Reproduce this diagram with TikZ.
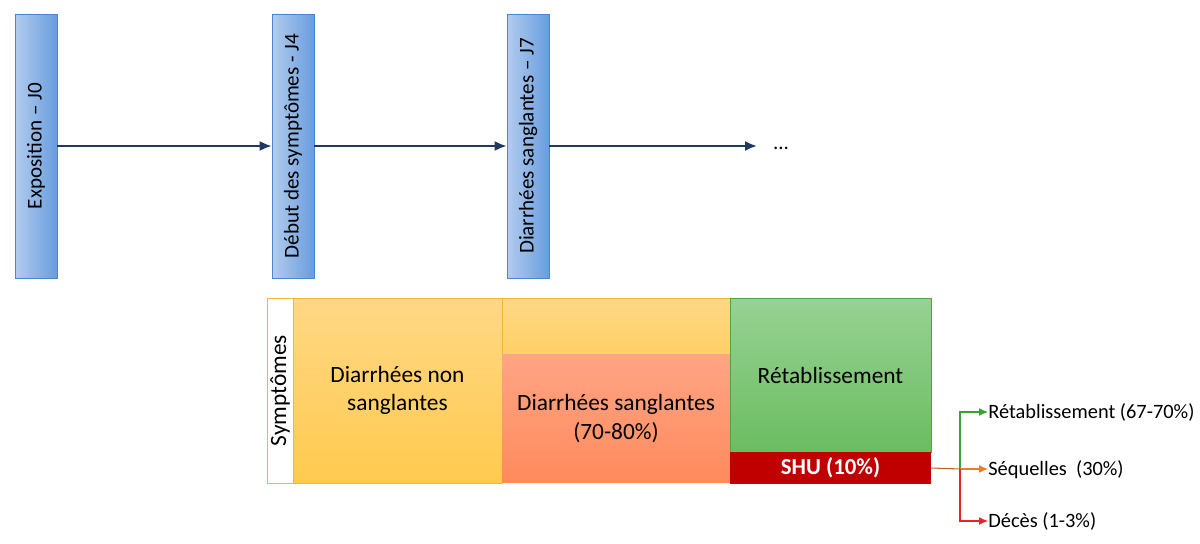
\documentclass[tikz,border=0pt]{standalone}
\usepackage{fontspec}
\setmainfont{Carlito}
\usepackage{tikz}
\usetikzlibrary{calc,arrows.meta}

\definecolor{phaseleft}{HTML}{B2CCEE}
\definecolor{phaseright}{HTML}{689DDF}
\definecolor{phaseline}{HTML}{4A86D0}
\definecolor{timeline}{HTML}{1F3864}
\definecolor{yellowtop}{HTML}{FFD886}
\definecolor{yellowbot}{HTML}{FFCA4E}
\definecolor{yellowline}{HTML}{F5B731}
\definecolor{salmontop}{HTML}{FFA585}
\definecolor{salmonbot}{HTML}{FF8A5C}
\definecolor{greentop}{HTML}{97D293}
\definecolor{greenbot}{HTML}{6BBD61}
\definecolor{greenline}{HTML}{4EA24A}
\definecolor{shured}{HTML}{C00000}
\definecolor{arrowgreen}{HTML}{3DA035}
\definecolor{arroworange}{HTML}{F07A1E}
\definecolor{arrowred}{HTML}{E8242A}

\tikzset{
  phase/.style={rotate=90, minimum width=5.28cm, minimum height=0.84cm,
    inner sep=0pt, draw=phaseline, left color=phaseleft, right color=phaseright,
    font=\fontsize{12}{14}\selectfont},
  block/.style={inner sep=0pt, align=center, font=\fontsize{13.3}{16}\selectfont},
  outcome/.style={anchor=west, inner sep=0pt, font=\fontsize{11.6}{14}\selectfont},
}

\begin{document}
\begin{tikzpicture}[x=0.02cm, y=-0.02cm]
        \useasboundingbox (0,0) rectangle (1200,544);

        % Timeline phases at the top
        \node[phase] (expo) at (36,146) {Exposition -- J0};
        \node[phase] (debut) at (293,146) {Début des symptômes - J4};
        \node[phase] (sang) at (528,146) {Diarrhées sanglantes -- J7};
        \node[font=\fontsize{12}{14}\selectfont, inner sep=0pt] (dots) at (781,148) {...};
        \coordinate (tend) at (757,146);

        % Arrows between the phases
        \draw[timeline, line width=1.1pt, -{Latex[length=2.4mm, width=2mm]}] (expo) -- (debut);
        \draw[timeline, line width=1.1pt, -{Latex[length=2.4mm, width=2mm]}] (debut) -- (sang);
        \draw[timeline, line width=1.1pt, -{Latex[length=2.4mm, width=2mm]}] (sang) -- (tend);

        % Symptom blocks at the bottom
        \node[block, rotate=90, draw=yellowline, fill=white, minimum width=3.7cm, minimum height=0.52cm] (symp) at (280,390.5) {Symptômes};
        \node[block, draw=yellowline, top color=yellowtop, bottom color=yellowbot, minimum width=4.18cm, minimum height=3.7cm] (nonsang) at (397.5,390.5) {Diarrhées non\\sanglantes};
        \node[block, draw=yellowline, top color=yellowtop, bottom color=yellowbot!60!yellowtop, minimum width=4.56cm, minimum height=1.12cm] (upper) at (616,326) {};
        \node[block, top color=salmontop, bottom color=salmonbot, minimum width=4.56cm, minimum height=2.58cm] (sang2) at (616,418.5) {Diarrhées sanglantes\\(70-80\%)};
        \node[block, draw=greenline, top color=greentop, bottom color=greenbot, minimum width=4.02cm, minimum height=3.08cm] (retab) at (830.5,375) {Rétablissement};
        \node[block, fill=shured, text=white, font=\fontsize{13}{16}\selectfont\bfseries, minimum width=4.02cm, minimum height=0.64cm] (shu) at (830.5,468) {SHU (10\%)};

        % Outcomes of SHU
        \node[outcome] (out1) at (988,412) {Rétablissement (67-70\%)};
        \node[outcome] (out2) at (988,470) {Séquelles~~(30\%)};
        \node[outcome] (out3) at (988,521) {Décès (1-3\%)};
        \coordinate (split) at (960,469);

        \draw[arroworange!80!black, line width=0.6pt] (shu.east) -- (split);
        \draw[arrowgreen, line width=0.6pt, -{Latex[length=1.8mm, width=1.6mm]}] (split) |- (out1.west);
        \draw[arroworange, line width=0.6pt, -{Latex[length=1.8mm, width=1.6mm]}] (split) -- (out2.west |- split);
        \draw[arrowred, line width=0.6pt, -{Latex[length=1.8mm, width=1.6mm]}] (split) |- (out3.west);
    \end{tikzpicture}
\end{document}
